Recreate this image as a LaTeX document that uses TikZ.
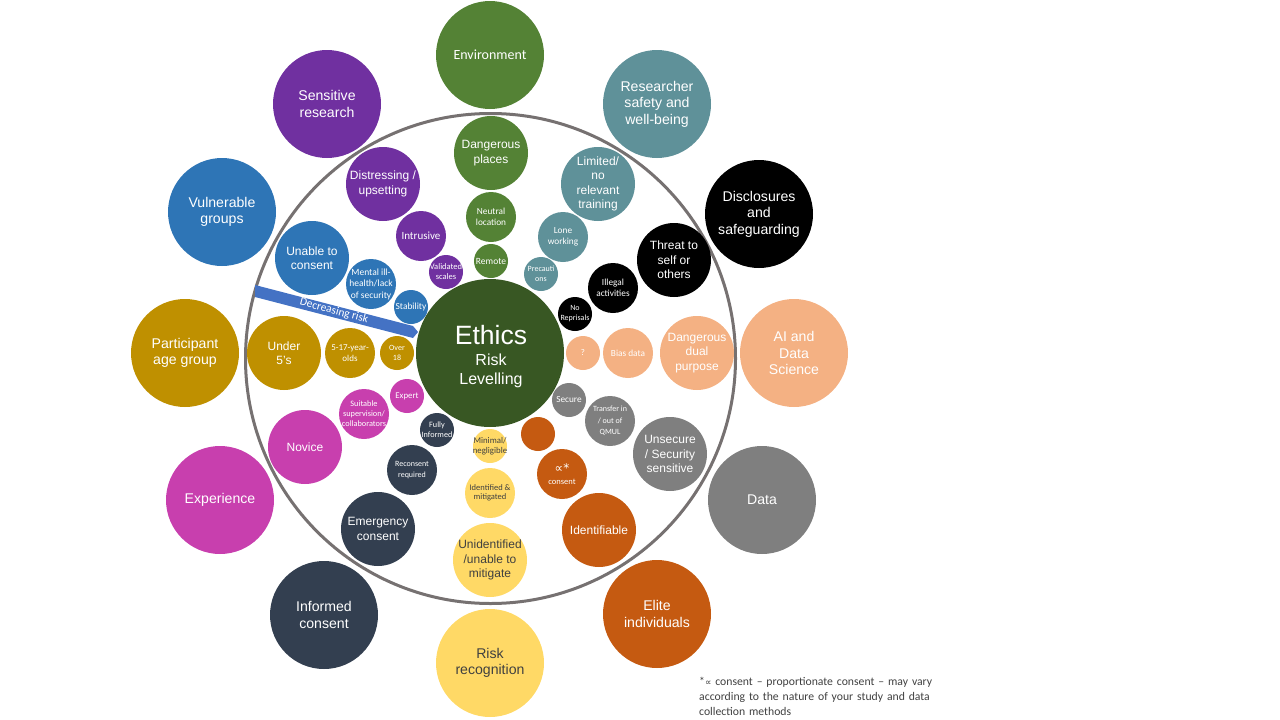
\documentclass[tikz,border=0pt]{standalone}
\usepackage{fontspec}
\setmainfont{Liberation Sans}
\newfontfamily\calf{Carlito}
\newfontfamily\djf{DejaVu Sans}
\definecolor{cgreen}{HTML}{548235}
\definecolor{cdark}{HTML}{385723}
\definecolor{cteal}{HTML}{5F9199}
\definecolor{cpeach}{HTML}{F4B183}
\definecolor{cgray}{HTML}{7F7F7F}
\definecolor{corange}{HTML}{C55A11}
\definecolor{cyellow}{HTML}{FFD966}
\definecolor{cnavy}{HTML}{333F50}
\definecolor{cmag}{HTML}{C83FAE}
\definecolor{cgold}{HTML}{BF9000}
\definecolor{cblue}{HTML}{2E75B6}
\definecolor{cpurple}{HTML}{7030A0}
\definecolor{cband}{HTML}{4472C4}
\definecolor{cring}{HTML}{767171}
\definecolor{ctxt}{HTML}{404040}
\tikzset{
 bub/.style={circle,fill=#1,inner sep=-10pt,align=center,text=white},
 big/.style={bub=#1,minimum size=108pt,font=\fontsize{14.1}{16.5}\selectfont},
 mid/.style={bub=#1,minimum size=74pt,font=\fontsize{12}{14.5}\selectfont},
 small/.style={bub=#1,minimum size=50pt,font=\calf\fontsize{9.3}{11.5}\selectfont},
 tiny/.style={bub=#1,minimum size=34pt,font=\calf\fontsize{8.8}{10}\selectfont},
}
\begin{document}
\begin{tikzpicture}[x=1pt,y=-1pt]
\useasboundingbox (0,0) rectangle (1280,720);
\node[circle,draw=cring,line width=3pt,minimum size=490pt,inner sep=0pt] (ring) at (490.5,358.5) {};
% outer
\node[big=cgreen,font=\calf\fontsize{14}{16}\selectfont] (env) at (490,55) {Environment};
\node[big=cteal] (res) at (657,104) {Researcher\\safety and\\well-being};
\node[big=black] (dis) at (759,214) {Disclosures\\and\\safeguarding};
\node[big=cpeach] (ai) at (794,353) {AI and\\Data\\Science};
\node[big=cgray] (data) at (762,500) {Data};
\node[big=corange] (elite) at (657,614) {Elite\\individuals};
\node[big=cyellow,text=ctxt] (rr) at (490,663) {Risk\\recognition};
\node[big=cnavy] (inf) at (324,615) {Informed\\consent};
\node[big=cmag] (exp) at (220,500) {Experience};
\node[big=cgold] (age) at (185,353) {Participant\\age group};
\node[big=cblue] (vul) at (222,212) {Vulnerable\\groups};
\node[big=cpurple] (sen) at (327,104) {Sensitive\\research};
% middle
\node[mid=cgreen] (dp) at (491,153) {Dangerous\\places};
\node[mid=cteal] (lim) at (598,184) {Limited/\\no\\relevant\\training};
\node[mid=black] (thr) at (674,260) {Threat to\\self or\\others};
\node[mid=cpeach] (dd) at (697,353) {Dangerous\\dual\\purpose};
\node[mid=cgray] (uns) at (670,454) {Unsecure\\/ Security\\sensitive};
\node[mid=corange] (idn) at (599,530) {Identifiable};
\node[mid=cyellow,text=ctxt] (uni) at (490,560) {Unidentified\\/unable to\\mitigate};
\node[mid=cnavy] (eme) at (378,529) {Emergency\\consent};
\node[mid=cmag] (nov) at (305,447) {Novice};
\node[mid=cgold] (und) at (284,353) {Under\\5's};
\node[mid=cblue] (una) at (312,258) {Unable to\\consent};
\node[mid=cpurple] (dst) at (383,184) {Distressing /\\upsetting};
% small
\node[small=cgreen] (neu) at (491,217) {Neutral\\location};
\node[small=cteal] (lon) at (563,237) {Lone\\working};
\node[small=black] (ill) at (613,288) {Illegal\\activities};
\node[small=cpeach] (bia) at (628,353) {Bias data};
\node[small=cgray,font=\calf\fontsize{8}{11.5}\selectfont] (tra) at (610,421) {Transfer in\\/ out of\\QMUL};
\node[small=corange,font=\calf\fontsize{8.5}{11.5}\selectfont] (pro) at (562,474) {{\djf\fontsize{12}{12}\selectfont ∝*}\\consent};
\node[small=cyellow,text=ctxt,font=\calf\fontsize{8.5}{9.5}\selectfont] (idm) at (490,493) {Identified \&\\mitigated};
\node[small=cnavy,font=\calf\fontsize{8}{10.5}\selectfont] (rec) at (412,470) {Reconsent\\required};
\node[small=cmag,font=\calf\fontsize{8.3}{10}\selectfont] (sui) at (364,414) {Suitable\\supervision/\\collaborators};
\node[small=cgold,font=\calf\fontsize{9}{11.5}\selectfont] (ols) at (350,353) {5-17-year-\\olds};
\node[small=cblue,font=\calf\fontsize{9.5}{11.5}\selectfont] (men) at (371,284) {Mental ill-\\health/lack\\of security};
\node[small=cpurple,font=\calf\fontsize{11}{13}\selectfont] (int) at (421,236) {Intrusive};
% tiny
\node[tiny=cgreen,font=\calf\fontsize{9.5}{10}\selectfont] (rem) at (491,261) {Remote};
\node[tiny=cteal,font=\calf\fontsize{8}{10}\selectfont] (pre) at (541,274) {Precauti\\ons};
\node[tiny=black,font=\calf\fontsize{8}{10}\selectfont] (nor) at (575,314) {No\\Reprisals};
\node[tiny=cpeach] (q) at (583,353) {?};
\node[tiny=cgray,font=\calf\fontsize{9.3}{10}\selectfont] (sec) at (569,400) {Secure};
\node[tiny=corange] (blank) at (538,434) {};
\node[tiny=cyellow,text=ctxt,font=\calf\fontsize{8.8}{9.5}\selectfont] (min) at (490,446) {Minimal/\\negligible};
\node[tiny=cnavy,font=\calf\fontsize{8.2}{10}\selectfont] (ful) at (437,430) {Fully\\Informed};
\node[tiny=cmag] (xpt) at (407,396) {Expert};
\node[tiny=cgold,font=\calf\fontsize{8}{10}\selectfont] (o18) at (397,353) {Over\\18};
\node[tiny=cblue,font=\calf\fontsize{9.4}{10}\selectfont] (sta) at (411,307) {Stability};
\node[tiny=cpurple,font=\calf\fontsize{8.5}{10}\selectfont] (val) at (446,272) {Validated\\scales};
% band
\fill[cband] (255,285) -- (413,326) -- (418,332) -- (413,338) -- (255,297) -- cycle;
\node[rotate=-15,text=white,inner sep=0pt,font=\calf\fontsize{11.5}{12}\selectfont] (dec) at (334,311) {Decreasing risk};
% centre
\node[circle,fill=cdark,minimum size=148pt,inner sep=0pt] (eth) at (490,353) {};
\node[text=white,inner sep=0pt,align=center,font=\fontsize{26.5}{30}\selectfont] (etht) at (491,335) {Ethics};
\node[text=white,inner sep=0pt,align=center,font=\fontsize{16}{19}\selectfont] (lev) at (491,371) {Risk\\Levelling};
% note
\node[anchor=north west,inner sep=0pt,align=left,text=ctxt,text width=250pt,font=\calf\fontsize{11.7}{15}\selectfont] (note) at (699,677) {*{\djf\fontsize{9}{9}\selectfont ∝} consent – proportionate consent – may vary\\according to the nature of your study and data\\collection methods};
\end{tikzpicture}
\end{document}
